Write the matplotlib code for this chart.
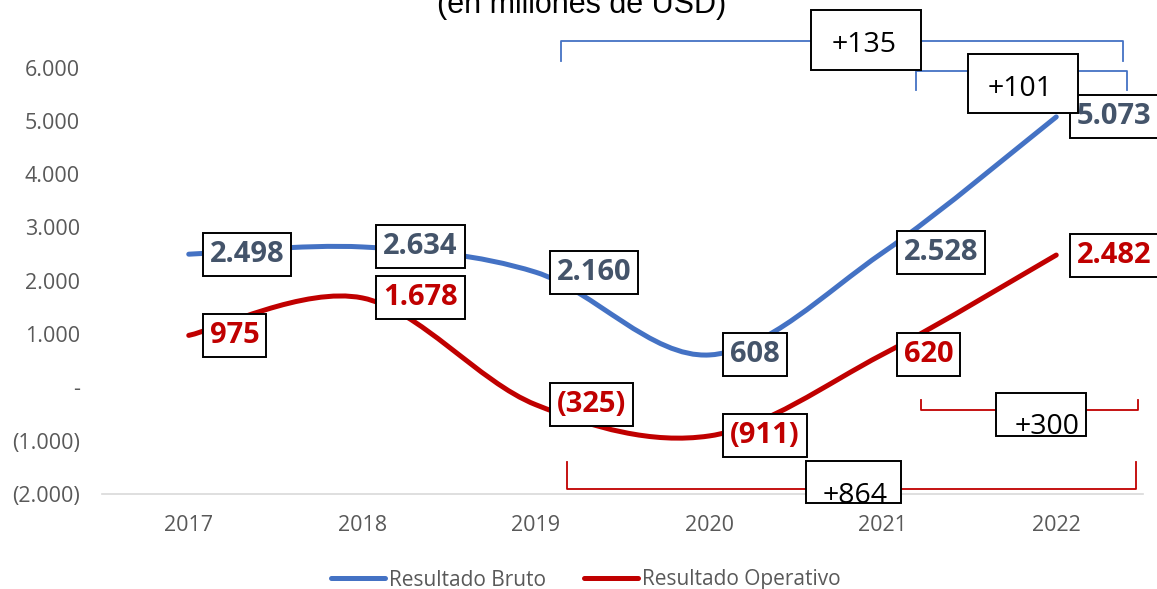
import numpy as np
import matplotlib
matplotlib.use('Agg')
import matplotlib.pyplot as plt
from matplotlib.path import Path
from matplotlib.patches import PathPatch, Rectangle
from matplotlib.lines import Line2D

years = ['2017', '2018', '2019', '2020', '2021', '2022']
bruto = [2498, 2634, 2160, 608, 2528, 5073]
operativo = [975, 1678, -325, -911, 620, 2482]
bruto_labels = ['2.498', '2.634', '2.160', '608', '2.528', '5.073']
operativo_labels = ['975', '1.678', '(325)', '(911)', '620', '2.482']
y_ticks = [-2000, -1000, 0, 1000, 2000, 3000, 4000, 5000, 6000]
y_tick_labels = ['(2.000)', '(1.000)', '-', '1.000', '2.000', '3.000',
                 '4.000', '5.000', '6.000']
series_names = ['Resultado Bruto', 'Resultado Operativo']
bracket_texts = ['+135', '+101', '+864', '+300']

BLUE = '#4472C4'
RED = '#C00000'
SLATE = '#44546A'
GREY = '#595959'

plt.rcParams['font.family'] = ['Open Sans', 'DejaVu Sans']


def smooth_path(xs, ys):
    # excel style smoothed line (cubic bezier through every point)
    pts = np.column_stack([xs, ys]).astype(float)
    ext = np.vstack([pts[0], pts, pts[-1]])
    verts = [pts[0]]
    codes = [Path.MOVETO]
    for i in range(len(pts) - 1):
        p0, p1, p2, p3 = ext[i], ext[i + 1], ext[i + 2], ext[i + 3]
        verts += [p1 + (p2 - p0) / 6, p2 - (p3 - p1) / 6, p2]
        codes += [Path.CURVE4] * 3
    return Path(verts, codes)


fig = plt.figure(figsize=(11.57, 5.89), dpi=100)
ax = fig.add_axes([102 / 1157, 95 / 589, 1041 / 1157, 426.5 / 589])

x = np.arange(len(years))
for vals, col in [(bruto, BLUE), (operativo, RED)]:
    ax.add_patch(PathPatch(smooth_path(x, vals), fill=False, ec=col, lw=3.6,
                           capstyle='round', joinstyle='round', zorder=3))

ax.set_xlim(-0.5, len(years) - 0.5)
ax.set_ylim(-2000, 6000)
ax.set_xticks(x)
ax.set_xticklabels(years)
ax.set_yticks(y_ticks)
ax.set_yticklabels(y_tick_labels)
ax.tick_params(axis='both', length=0, labelsize=15.5, labelcolor=GREY)
ax.tick_params(axis='y', pad=16)
ax.tick_params(axis='x', pad=15)
for s in ['top', 'right', 'left']:
    ax.spines[s].set_visible(False)
ax.spines['bottom'].set_color('#D9D9D9')
ax.spines['bottom'].set_linewidth(1.2)

# data labels
for vals, labs, col in [(bruto, bruto_labels, SLATE), (operativo, operativo_labels, RED)]:
    for i, (v, s) in enumerate(zip(vals, labs)):
        ax.annotate(s, (i, v), xytext=(15, 0), textcoords='offset points',
                    ha='left', va='center', fontsize=21, fontweight='bold',
                    color=col, zorder=5, annotation_clip=False,
                    bbox=dict(boxstyle='square,pad=0.24', fc='white',
                              ec='black', lw=1.4))

# brackets with boxed differences
brackets = [
    # xl, xr, y_line, y_end, colour, box (x0, x1, y0, y1), text (x, y)
    (2.147, 5.384, 6488, 6113, BLUE, (3.589, 4.218, 5962, 7070), (3.89, 6282)),
    (4.189, 5.407, 5925, 5587, BLUE, (4.489, 5.124, 5155, 6244), (4.79, 5474)),
    (2.181, 5.459, -1906, -1399, RED, (3.555, 4.103, -2169, -1380), (3.84, -2175)),
    (4.218, 5.470, -423, -235, RED, (4.651, 5.170, -911, -103), (4.945, -873)),
]
for (xl, xr, yl, ye, col, box, tp), txt in zip(brackets, bracket_texts):
    ax.plot([xl, xl, xr, xr], [ye, yl, yl, ye], color=col, lw=1.3,
            clip_on=False, zorder=4, solid_joinstyle='round')
    rect = Rectangle((box[0], box[2]), box[1] - box[0], box[3] - box[2],
                     fc='white', ec='black', lw=1.4, clip_on=False, zorder=7)
    ax.add_patch(rect)
    t = ax.text(tp[0], tp[1], txt, ha='center', va='baseline', fontsize=20.5,
                color='black', zorder=8)
    t.set_clip_path(rect)

# title (cut off at top in the original)
fig.text(582 / 1157, 1 - 13 / 589, '(en millones de USD)', ha='center',
         va='baseline', fontsize=22, family='Liberation Sans', color='black')

handles = [Line2D([], [], color=BLUE, lw=3.6, solid_capstyle='round'),
           Line2D([], [], color=RED, lw=3.6, solid_capstyle='round')]
fig.legend(handles, series_names, loc='center', ncol=2, frameon=False,
           bbox_to_anchor=(586 / 1157, 1 - 580 / 589), fontsize=15,
           labelcolor=GREY, handlelength=2.6, handletextpad=0.2,
           columnspacing=1.8)

fig.savefig('out.png', dpi=100)
